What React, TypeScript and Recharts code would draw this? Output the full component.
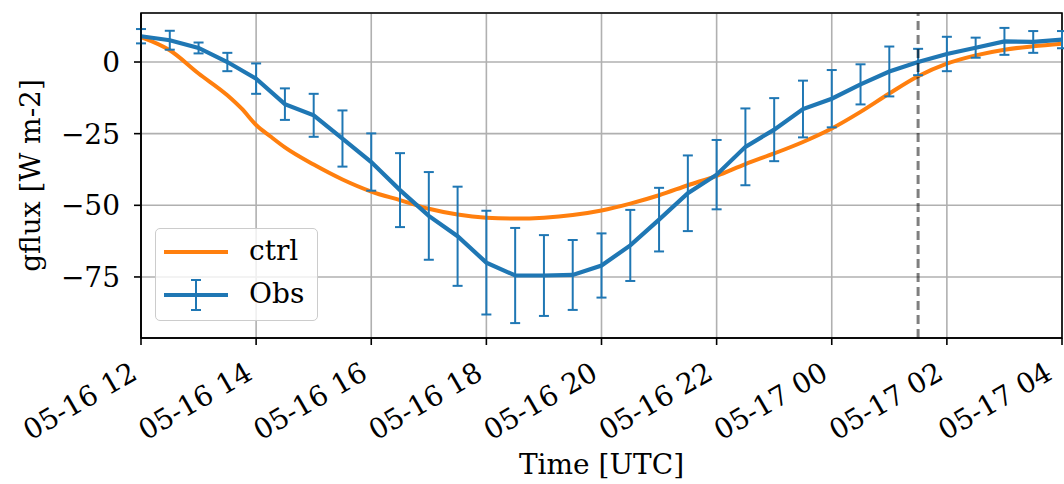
import {
  LineChart,
  Line,
  XAxis,
  YAxis,
  CartesianGrid,
  ErrorBar,
  ReferenceLine,
  ReferenceArea,
} from "recharts";

// hours counted from 05-16 00 UTC
const obsHours = [
  12, 12.5, 13, 13.5, 14, 14.5, 15, 15.5, 16, 16.5, 17, 17.5, 18, 18.5, 19, 19.5, 20,
  20.5, 21, 21.5, 22, 22.5, 23, 23.5, 24, 24.5, 25, 25.5, 26, 26.5, 27, 27.5, 28,
];
const obsValues = [
  9.0, 7.6, 4.9, 0.0, -5.8, -14.7, -18.6, -26.7, -34.9, -44.7, -53.7, -60.8, -70.0,
  -74.5, -74.5, -74.3, -71.0, -64.0, -55.0, -45.8, -39.3, -29.6, -23.6, -16.4, -12.8,
  -7.8, -3.3, 0.0, 2.8, 5.0, 7.2, 7.0, 7.8,
];
const obsErrors = [
  2.5, 3.3, 1.9, 3.2, 5.3, 5.5, 7.5, 9.8, 10.0, 12.9, 15.3, 17.3, 18.1, 16.6, 14.1,
  12.2, 11.2, 12.4, 11.1, 13.2, 12.1, 13.4, 11.0, 9.9, 10.0, 7.0, 8.7, 4.6, 6.0, 3.5,
  4.7, 3.8, 3.0,
];

const ctrlHours = [
  12, 12.5, 13, 13.5, 13.75, 14, 14.25, 14.5, 15, 15.5, 16, 16.5, 17, 17.5, 18, 18.5,
  19, 19.5, 20, 20.5, 21, 21.5, 22, 22.5, 23, 23.5, 24, 24.5, 25, 25.5, 26, 26.5, 27,
  27.5, 28,
];
const ctrlValues = [
  8.7, 4.1, -4.0, -11.6, -16.3, -22.0, -26.0, -29.8, -35.8, -41.0, -45.2, -48.2, -51.2,
  -53.2, -54.3, -54.6, -54.3, -53.4, -51.8, -49.4, -46.5, -43.0, -39.7, -35.6, -31.9,
  -27.9, -23.2, -17.4, -11.0, -5.0, -0.6, 2.3, 4.3, 5.5, 6.4,
];

const xTicks = [12, 14, 16, 18, 20, 22, 24, 26, 28];
const xTickLabels = [
  "05-16 12", "05-16 14", "05-16 16", "05-16 18", "05-16 20",
  "05-16 22", "05-17 00", "05-17 02", "05-17 04",
];
const yTicks = [0, -25, -50, -75];
const xDomain = [12, 28];
const yDomain = [-96.3, 17.1];
const markerHour = 25.5;

const BLUE = "#1f77b4";
const ORANGE = "#ff7f0e";
const FONT = "'DejaVu Serif', serif";
const FS = 28;

const obsData = obsHours.map((hour, i) => ({ hour, obs: obsValues[i], err: obsErrors[i] }));
const ctrlData = ctrlHours.map((hour, i) => ({ hour, ctrl: ctrlValues[i] }));

const XTick = (props: any) => {
  const { x, y, payload } = props;
  const idx = xTicks.indexOf(payload.value);
  const ax = x - 2;
  const ay = y + 33;
  return (
    <text
      x={ax}
      y={ay}
      transform={`rotate(-30, ${ax}, ${ay})`}
      textAnchor="end"
      fontFamily={FONT}
      fontSize={FS}
      fill="#000"
    >
      {xTickLabels[idx]}
    </text>
  );
};

const YTick = (props: any) => {
  const { x, y, payload } = props;
  const v = payload.value;
  const label = v < 0 ? `\u2212${Math.abs(v)}` : `${v}`;
  return (
    <text
      x={x - 14}
      y={y}
      dy={10}
      textAnchor="end"
      fontFamily={FONT}
      fontSize={FS}
      fill="#000"
    >
      {label}
    </text>
  );
};

const YLabel = (props: any) => {
  const { viewBox } = props;
  const cx = 40;
  const cy = viewBox.y + viewBox.height / 2;
  return (
    <text
      x={cx}
      y={cy}
      transform={`rotate(-90, ${cx}, ${cy})`}
      textAnchor="middle"
      fontFamily={FONT}
      fontSize={FS}
      fill="#000"
    >
      gflux [W m-2]
    </text>
  );
};

const XLabel = (props: any) => {
  const { viewBox } = props;
  return (
    <text
      x={viewBox.x + viewBox.width / 2}
      y={474}
      textAnchor="middle"
      fontFamily={FONT}
      fontSize={FS}
      fill="#000"
    >
      Time [UTC]
    </text>
  );
};

function ChartLegend() {
  return (
    <div
      style={{
        position: "absolute",
        left: 155,
        top: 228,
        width: 161,
        height: 91,
        border: "1.5px solid #cccccc",
        borderRadius: 5,
        background: "rgba(255,255,255,0.8)",
        fontFamily: FONT,
        fontSize: FS,
      }}
    >
      <svg width={80} height={91} style={{ position: "absolute", left: 0, top: 0 }}>
        <line x1={8} y1={23} x2={72} y2={23} stroke={ORANGE} strokeWidth={4} />
        <line x1={8} y1={66} x2={72} y2={66} stroke={BLUE} strokeWidth={4} />
        <line x1={40} y1={51} x2={40} y2={81} stroke={BLUE} strokeWidth={2} />
        <line x1={35} y1={51} x2={45} y2={51} stroke={BLUE} strokeWidth={2} />
        <line x1={35} y1={81} x2={45} y2={81} stroke={BLUE} strokeWidth={2} />
      </svg>
      <div style={{ position: "absolute", left: 93, top: 5, lineHeight: "34px" }}>ctrl</div>
      <div style={{ position: "absolute", left: 93, top: 48, lineHeight: "34px" }}>Obs</div>
    </div>
  );
}

export default function App() {
  return (
    <div style={{ position: "absolute", left: 0, top: 0, width: 1064, height: 484, background: "#fff" }}>
      <LineChart width={1064} height={484} margin={{ top: 13, right: 2, left: 0, bottom: 0 }}>
        <CartesianGrid stroke="#b0b0b0" strokeWidth={1.6} />
        <XAxis
          type="number"
          dataKey="hour"
          domain={xDomain}
          ticks={xTicks}
          allowDataOverflow
          height={146}
          tickSize={7}
          tickMargin={0}
          tick={<XTick />}
          axisLine={{ stroke: "#000", strokeWidth: 1.6 }}
          tickLine={{ stroke: "#000", strokeWidth: 1.6 }}
          label={<XLabel />}
        />
        <YAxis
          type="number"
          domain={yDomain}
          ticks={yTicks}
          allowDataOverflow
          width={141}
          tickSize={7}
          tickMargin={0}
          tick={<YTick />}
          axisLine={{ stroke: "#000", strokeWidth: 1.6 }}
          tickLine={{ stroke: "#000", strokeWidth: 1.6 }}
          label={<YLabel />}
        />
        <ReferenceArea
          x1={xDomain[0]}
          x2={xDomain[1]}
          y1={yDomain[0]}
          y2={yDomain[1]}
          fill="none"
          fillOpacity={0}
          stroke="#000"
          strokeWidth={1.6}
        />
        <Line
          data={ctrlData}
          dataKey="ctrl"
          type="monotone"
          stroke={ORANGE}
          strokeWidth={4}
          dot={false}
          isAnimationActive={false}
        />
        <Line
          data={obsData}
          dataKey="obs"
          type="linear"
          stroke={BLUE}
          strokeWidth={4.2}
          dot={false}
          isAnimationActive={false}
        >
          <ErrorBar dataKey="err" direction="y" width={5} stroke={BLUE} strokeWidth={2} isAnimationActive={false} />
        </Line>
        <ReferenceLine x={markerHour} stroke="#000" strokeOpacity={0.5} strokeWidth={3} strokeDasharray="9 5" />
      </LineChart>
      <ChartLegend />
    </div>
  );
}
